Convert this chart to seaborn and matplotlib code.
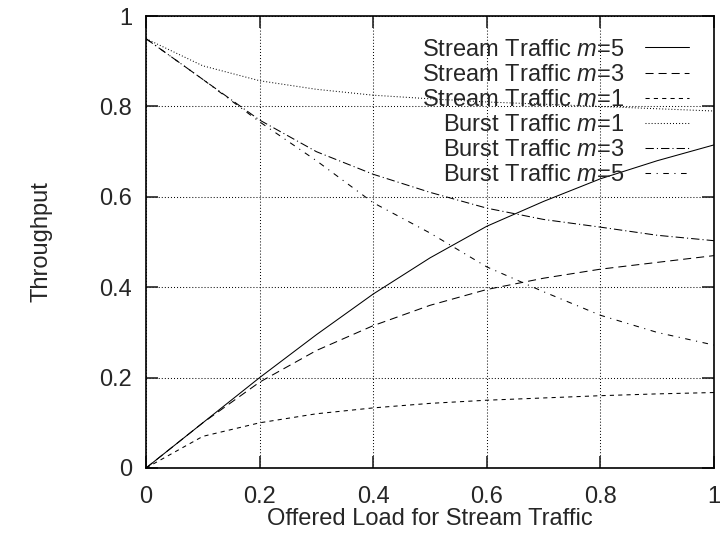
import numpy as np
import pandas as pd
import matplotlib
matplotlib.use("Agg")
import matplotlib.pyplot as plt
import seaborn as sns

# Offered load on the x axis
load = [0.0, 0.1, 0.2, 0.3, 0.4, 0.5, 0.6, 0.7, 0.8, 0.9, 1.0]

# Throughput curves
stream_m5 = [0.0, 0.10, 0.20, 0.295, 0.385, 0.465, 0.535, 0.59, 0.64, 0.68, 0.715]
stream_m3 = [0.0, 0.10, 0.19, 0.26, 0.315, 0.36, 0.395, 0.42, 0.44, 0.455, 0.47]
stream_m1 = [0.0, 0.07, 0.10, 0.12, 0.133, 0.143, 0.15, 0.155, 0.16, 0.164, 0.167]
burst_m1 = [0.95, 0.89, 0.857, 0.838, 0.825, 0.817, 0.81, 0.805, 0.80, 0.795, 0.79]
burst_m3 = [0.95, 0.86, 0.77, 0.70, 0.65, 0.61, 0.575, 0.55, 0.533, 0.515, 0.503]
burst_m5 = [0.95, 0.86, 0.766, 0.68, 0.587, 0.52, 0.445, 0.39, 0.338, 0.30, 0.272]

labels = ["Stream Traffic $m$=5", "Stream Traffic $m$=3", "Stream Traffic $m$=1",
          "Burst Traffic $m$=1", "Burst Traffic $m$=3", "Burst Traffic $m$=5"]
series = [stream_m5, stream_m3, stream_m1, burst_m1, burst_m3, burst_m5]
dashes = [None, (5.8, 3.6), (3, 3), (0.7, 1.5), (6, 2.2, 0.8, 2.2), (4, 4, 0.8, 4)]

sns.set_style("white")
plt.rcParams["font.family"] = ["Liberation Sans", "DejaVu Sans"]
plt.rcParams["mathtext.fontset"] = "custom"
plt.rcParams["mathtext.rm"] = "Liberation Sans"
plt.rcParams["mathtext.it"] = "Liberation Sans:italic"
plt.rcParams["lines.scale_dashes"] = False

FS = 17

fig = plt.figure(figsize=(7.2, 5.37), dpi=100)
ax = fig.add_axes([0.2028, 0.1285, 0.7889, 0.8415])

for lab, vals, d in zip(labels, series, dashes):
    df = pd.DataFrame({"load": load, "thr": vals})
    sns.lineplot(data=df, x="load", y="thr", ax=ax, color="black", lw=0.75,
                 label=lab)
    line = ax.get_lines()[-1]
    if d is not None:
        line.set_dashes(d)

ax.set_xlim(0, 1)
ax.set_ylim(0, 1)
ax.set_xticks([0, 0.2, 0.4, 0.6, 0.8, 1])
ax.set_yticks([0, 0.2, 0.4, 0.6, 0.8, 1])
ax.set_xticklabels(["0", "0.2", "0.4", "0.6", "0.8", "1"])
ax.set_yticklabels(["0", "0.2", "0.4", "0.6", "0.8", "1"])
ax.grid(True, color="black", linestyle=(0, (0.7, 1.5)), linewidth=0.75)
ax.tick_params(direction="in", length=8.5, width=1.2, labelsize=FS,
               top=True, right=True, bottom=True, left=True)
ax.tick_params(axis="x", pad=13)
ax.tick_params(axis="y", pad=10)
for s in ax.spines.values():
    s.set_color("black")
    s.set_linewidth(1.2)

ax.set_xlabel("Offered Load for Stream Traffic", fontsize=FS)
ax.set_ylabel("Throughput", fontsize=FS)
ax.xaxis.set_label_coords(0.5, -0.0885)
ax.yaxis.set_label_coords(-0.165, 0.5)

leg = ax.legend(loc="upper right", frameon=False, markerfirst=False,
                fontsize=FS, handlelength=1.85, handletextpad=0.9,
                labelspacing=0.13, borderaxespad=0.0, borderpad=0.0,
                bbox_to_anchor=(0.956, 0.95))

fig.savefig("out.png", dpi=100)
